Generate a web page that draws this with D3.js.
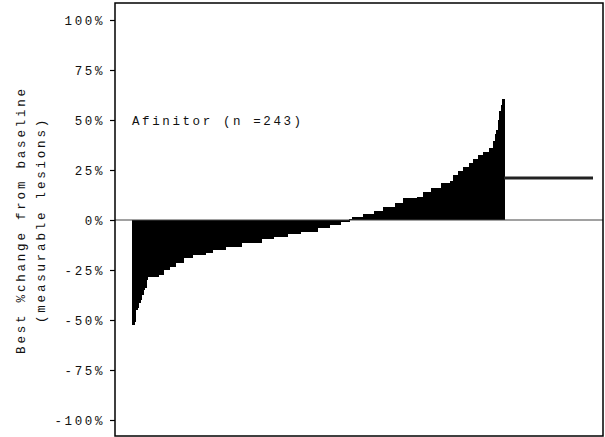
<!DOCTYPE html>
<html>
<head>
<meta charset="utf-8">
<script src="https://cdn.jsdelivr.net/npm/d3@7"></script>
<style>
html,body{margin:0;padding:0;background:#fff;}
svg{display:block;}
text{font-family:"Liberation Mono","DejaVu Sans Mono",monospace;fill:#111;}
</style>
</head>
<body>
<svg id="chart" width="605" height="437"></svg>
<script>
// Best % change from baseline for each patient (sorted)
const bestChange = [
  -52.5, -51, -45, -44, -41.5, -40, -37.5, -35, -34, -30,
  -28.5, -28.5, -28.5, -28.5, -28.5, -28.5, -28.5, -27.5, -27.5, -27.5,
  -25, -25, -25, -25, -23.5, -23.5, -23.5, -23.5, -21.5, -21.5,
  -21.5, -21.5, -21.5, -19, -19, -19, -19, -19, -19, -17.5,
  -17.5, -17.5, -17.5, -17.5, -17.5, -17.5, -17.5, -17.5, -16.5, -16.5,
  -16.5, -16.5, -15, -15, -15, -15, -15, -15, -15, -15,
  -15, -13.5, -13.5, -13.5, -13.5, -13.5, -13.5, -13.5, -13.5, -13.5,
  -13.5, -11.5, -11.5, -11.5, -11.5, -11.5, -11.5, -11.5, -11.5, -11.5,
  -11.5, -11.5, -11.5, -11.5, -9.5, -9.5, -9.5, -9.5, -9.5, -9.5,
  -9.5, -9.5, -8.5, -8.5, -8.5, -8.5, -8.5, -8.5, -8.5, -8.5,
  -8.5, -7, -7, -7, -7, -7, -7, -7, -7, -7,
  -6, -6, -6, -6, -6, -6, -6, -6, -6, -6,
  -6, -4, -4, -4, -4, -4, -4, -4, -4, -2.5,
  -2.5, -2.5, -2.5, -2.5, -2.5, -2.5, -1, -1, -1, -1,
  -1, -1, 0.5, 0.5, 1.5, 1.5, 1.5, 1.5, 1.5, 1.5,
  1.5, 3, 3, 3, 3, 3, 3, 3, 4.5, 4.5,
  4.5, 4.5, 4.5, 4.5, 6.5, 6.5, 6.5, 6.5, 6.5, 6.5,
  6.5, 6.5, 8.5, 8.5, 8.5, 8.5, 8.5, 11, 11, 11,
  11, 11, 11, 11, 11, 11, 11.5, 11.5, 11.5, 11.5,
  14, 14, 14, 14, 14, 16, 16, 16, 16, 16,
  16, 16, 18.5, 18.5, 18.5, 18.5, 18.5, 18.5, 19.5, 19.5,
  22.5, 22.5, 22.5, 24.5, 24.5, 24.5, 26.5, 26.5, 26.5, 26.5,
  28.5, 28.5, 28.5, 30.5, 30.5, 30.5, 32.5, 32.5, 32.5, 34,
  34, 34, 34, 36, 36, 36, 39.5, 43, 45, 50,
  54.5, 57.5, 60.5
];
const refLineValue = 21;           // horizontal reference line to the right of the bars
const yTicks = [100, 75, 50, 25, 0, -25, -50, -75, -100];
const annotation = "Afinitor (n =243)";
const yTitleLines = ["Best %change from baseline", "(measurable lesions)"];

const svg = d3.select("#chart");
const box = {left: 115, right: 603, top: 3, bottom: 436};

const y = d3.scaleLinear().domain([-100, 100]).range([420, 20]);
const x = d3.scaleBand().domain(d3.range(bestChange.length)).range([132, 504]).padding(0);
const xr = d3.scaleLinear().domain([0, 1]).range([504, 593]);

// bars
svg.append("g").attr("shape-rendering", "crispEdges")
  .selectAll("rect").data(bestChange).join("rect")
  .attr("x", (d, i) => x(i))
  .attr("width", x.bandwidth() + 1)
  .attr("y", d => y(Math.max(0, d)))
  .attr("height", d => Math.abs(y(d) - y(0)))
  .attr("fill", "#000");

// zero line
svg.append("line")
  .attr("x1", box.left).attr("x2", box.right)
  .attr("y1", y(0)).attr("y2", y(0))
  .attr("stroke", "#444").attr("stroke-width", 1.2);

// reference line
svg.append("line")
  .attr("x1", xr(0)).attr("x2", xr(1))
  .attr("y1", y(refLineValue)).attr("y2", y(refLineValue))
  .attr("stroke", "#222").attr("stroke-width", 3);

// frame
svg.append("rect")
  .attr("x", box.left).attr("y", box.top)
  .attr("width", box.right - box.left).attr("height", box.bottom - box.top)
  .attr("fill", "none").attr("stroke", "#000").attr("stroke-width", 1.5);

// y axis
const yAxis = d3.axisLeft(y).tickValues(yTicks).tickSize(5).tickPadding(5)
  .tickFormat(d => d + "%");
const ga = svg.append("g").attr("transform", `translate(${box.left},0)`).call(yAxis);
ga.select(".domain").remove();
ga.selectAll(".tick line").attr("stroke", "#000").attr("stroke-width", 1.2);
ga.selectAll(".tick text")
  .attr("font-family", "Liberation Mono")
  .attr("font-size", 12.5)
  .attr("letter-spacing", "2.6px")
  .attr("fill", "#111");

// annotation
svg.append("text")
  .attr("x", 132).attr("y", 125)
  .attr("font-size", 12.5)
  .attr("letter-spacing", "2.6px")
  .text(annotation);

// y title
const titleX = [25, 45];
yTitleLines.forEach((t, k) => {
  svg.append("text")
    .attr("transform", `translate(${titleX[k]},220) rotate(-90)`)
    .attr("text-anchor", "middle")
    .attr("font-size", 12.5)
    .attr("letter-spacing", "2.8px")
    .text(t);
});
</script>
</body>
</html>
